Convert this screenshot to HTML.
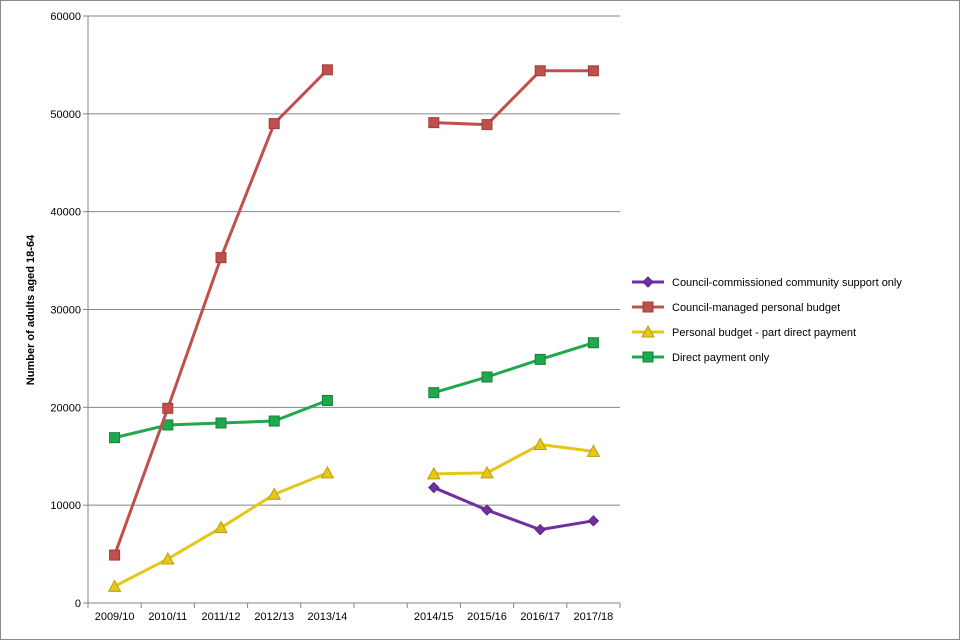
<!DOCTYPE html>
<html><head><meta charset="utf-8"><style>
body{margin:0;background:#fff}
svg{display:block;font-family:"Liberation Sans",sans-serif}
</style></head><body>
<svg id="chart" width="960" height="640">
<rect x="0.5" y="0.5" width="959" height="639" fill="#fff" stroke="#8c8c8c"/>
<g id="grid"></g><g id="axes"></g><g id="series"></g><g id="legend"></g>
<text x="34" y="310" font-size="11" font-weight="bold" text-anchor="middle" transform="rotate(-90 34 310)">Number of adults aged 18-64</text>
</svg>
<script>
const categories=["2009/10","2010/11","2011/12","2012/13","2013/14","","2014/15","2015/16","2016/17","2017/18"];
const yTicks=[0,10000,20000,30000,40000,50000,60000];
const seriesNames=["Council-commissioned community support only","Council-managed personal budget","Personal budget - part direct payment","Direct payment only"];
const purple=[null,null,null,null,null,null,11800,9500,7500,8400];
const red=[4900,19900,35300,49000,54500,null,49100,48900,54400,54400];
const yellow=[1700,4500,7700,11100,13300,null,13200,13300,16200,15500];
const green=[16900,18200,18400,18600,20700,null,21500,23100,24900,26600];
const NS="http://www.w3.org/2000/svg";
const L=88,R=620,T=16,B=603,yMax=60000;
const slot=(R-L)/categories.length;
const xs=i=>L+slot*(i+0.5);
const ys=v=>B-(v/yMax)*(B-T);
function mk(tag,attrs,parent){const e=document.createElementNS(NS,tag);for(const k in attrs)e.setAttribute(k,attrs[k]);parent.appendChild(e);return e;}
const grid=document.getElementById('grid'),axes=document.getElementById('axes'),ser=document.getElementById('series'),leg=document.getElementById('legend');
yTicks.forEach(t=>{
  const y=ys(t);
  const g=mk('line',{x1:L,x2:R,y1:y,y2:y,stroke:t===0?'#868686':'#868686','stroke-width':1},grid);
  
  
  mk('line',{x1:L-5,x2:L,y1:y,y2:y,stroke:'#868686'},axes);
  const tx=mk('text',{x:L-7,y:y+4,'font-size':11,'text-anchor':'end'},axes);tx.textContent=t;
  
  
});
mk('line',{x1:L,x2:L,y1:T,y2:B,stroke:'#868686'},axes);
for(let i=0;i<=categories.length;i++){const x=L+slot*i;mk('line',{x1:x,x2:x,y1:B,y2:B+5,stroke:'#868686'},axes);}
categories.forEach((c,i)=>{if(!c)return;const t=mk('text',{x:xs(i),y:B+17,'font-size':11,'text-anchor':'middle'},axes);t.textContent=c;
  
  });
function marker(shape,x,y,col,dark,p){
  let e;
  if(shape==='sq')e=mk('rect',{x:x-5,y:y-5,width:10,height:10,fill:col,stroke:dark,'stroke-width':1},p);
  else if(shape==='tri')e=mk('polygon',{points:`${x},${y-6} ${x+6},${y+5} ${x-6},${y+5}`,fill:col,stroke:dark,'stroke-width':1},p);
  else e=mk('polygon',{points:`${x},${y-5} ${x+5},${y} ${x},${y+5} ${x-5},${y}`,fill:col,stroke:dark,'stroke-width':1},p);
  return e;
}
const defs=[[purple,'#7030a0','#5a2585','dia'],[red,'#c0504d','#a03c3a','sq'],[yellow,'#e6c619','#b8a010','tri'],[green,'#1fa84d','#15803a','sq']];
[defs[3],defs[2],defs[1],defs[0]].forEach(([data,col,dark,shape])=>{
  const g=mk('g',{},ser);
  
  
  let seg=[];const segs=[];
  data.forEach((v,i)=>{if(v==null){if(seg.length)segs.push(seg);seg=[];}else seg.push([xs(i),ys(v)]);});
  if(seg.length)segs.push(seg);
  segs.forEach(s=>{const pl=mk('polyline',{points:s.map(p=>p.join(',')).join(' '),fill:'none',stroke:col,'stroke-width':3,'stroke-linejoin':'round'},g);
    
    });
  data.forEach((v,i)=>{if(v==null)return;const m=marker(shape,xs(i),ys(v),col,dark,g);
    
    });
});
const legY=[282,307,332,357];
defs.forEach(([d,col,dark,shape],k)=>{
  const g=mk('g',{},leg);
  
  
  const y=legY[k];
  mk('line',{x1:632,x2:664,y1:y,y2:y,stroke:col,'stroke-width':3},g);
  marker(shape,648,y,col,dark,g);
  const t=mk('text',{x:672,y:y+4,'font-size':11},g);t.textContent=seriesNames[k];
});
</script>
</body></html>
